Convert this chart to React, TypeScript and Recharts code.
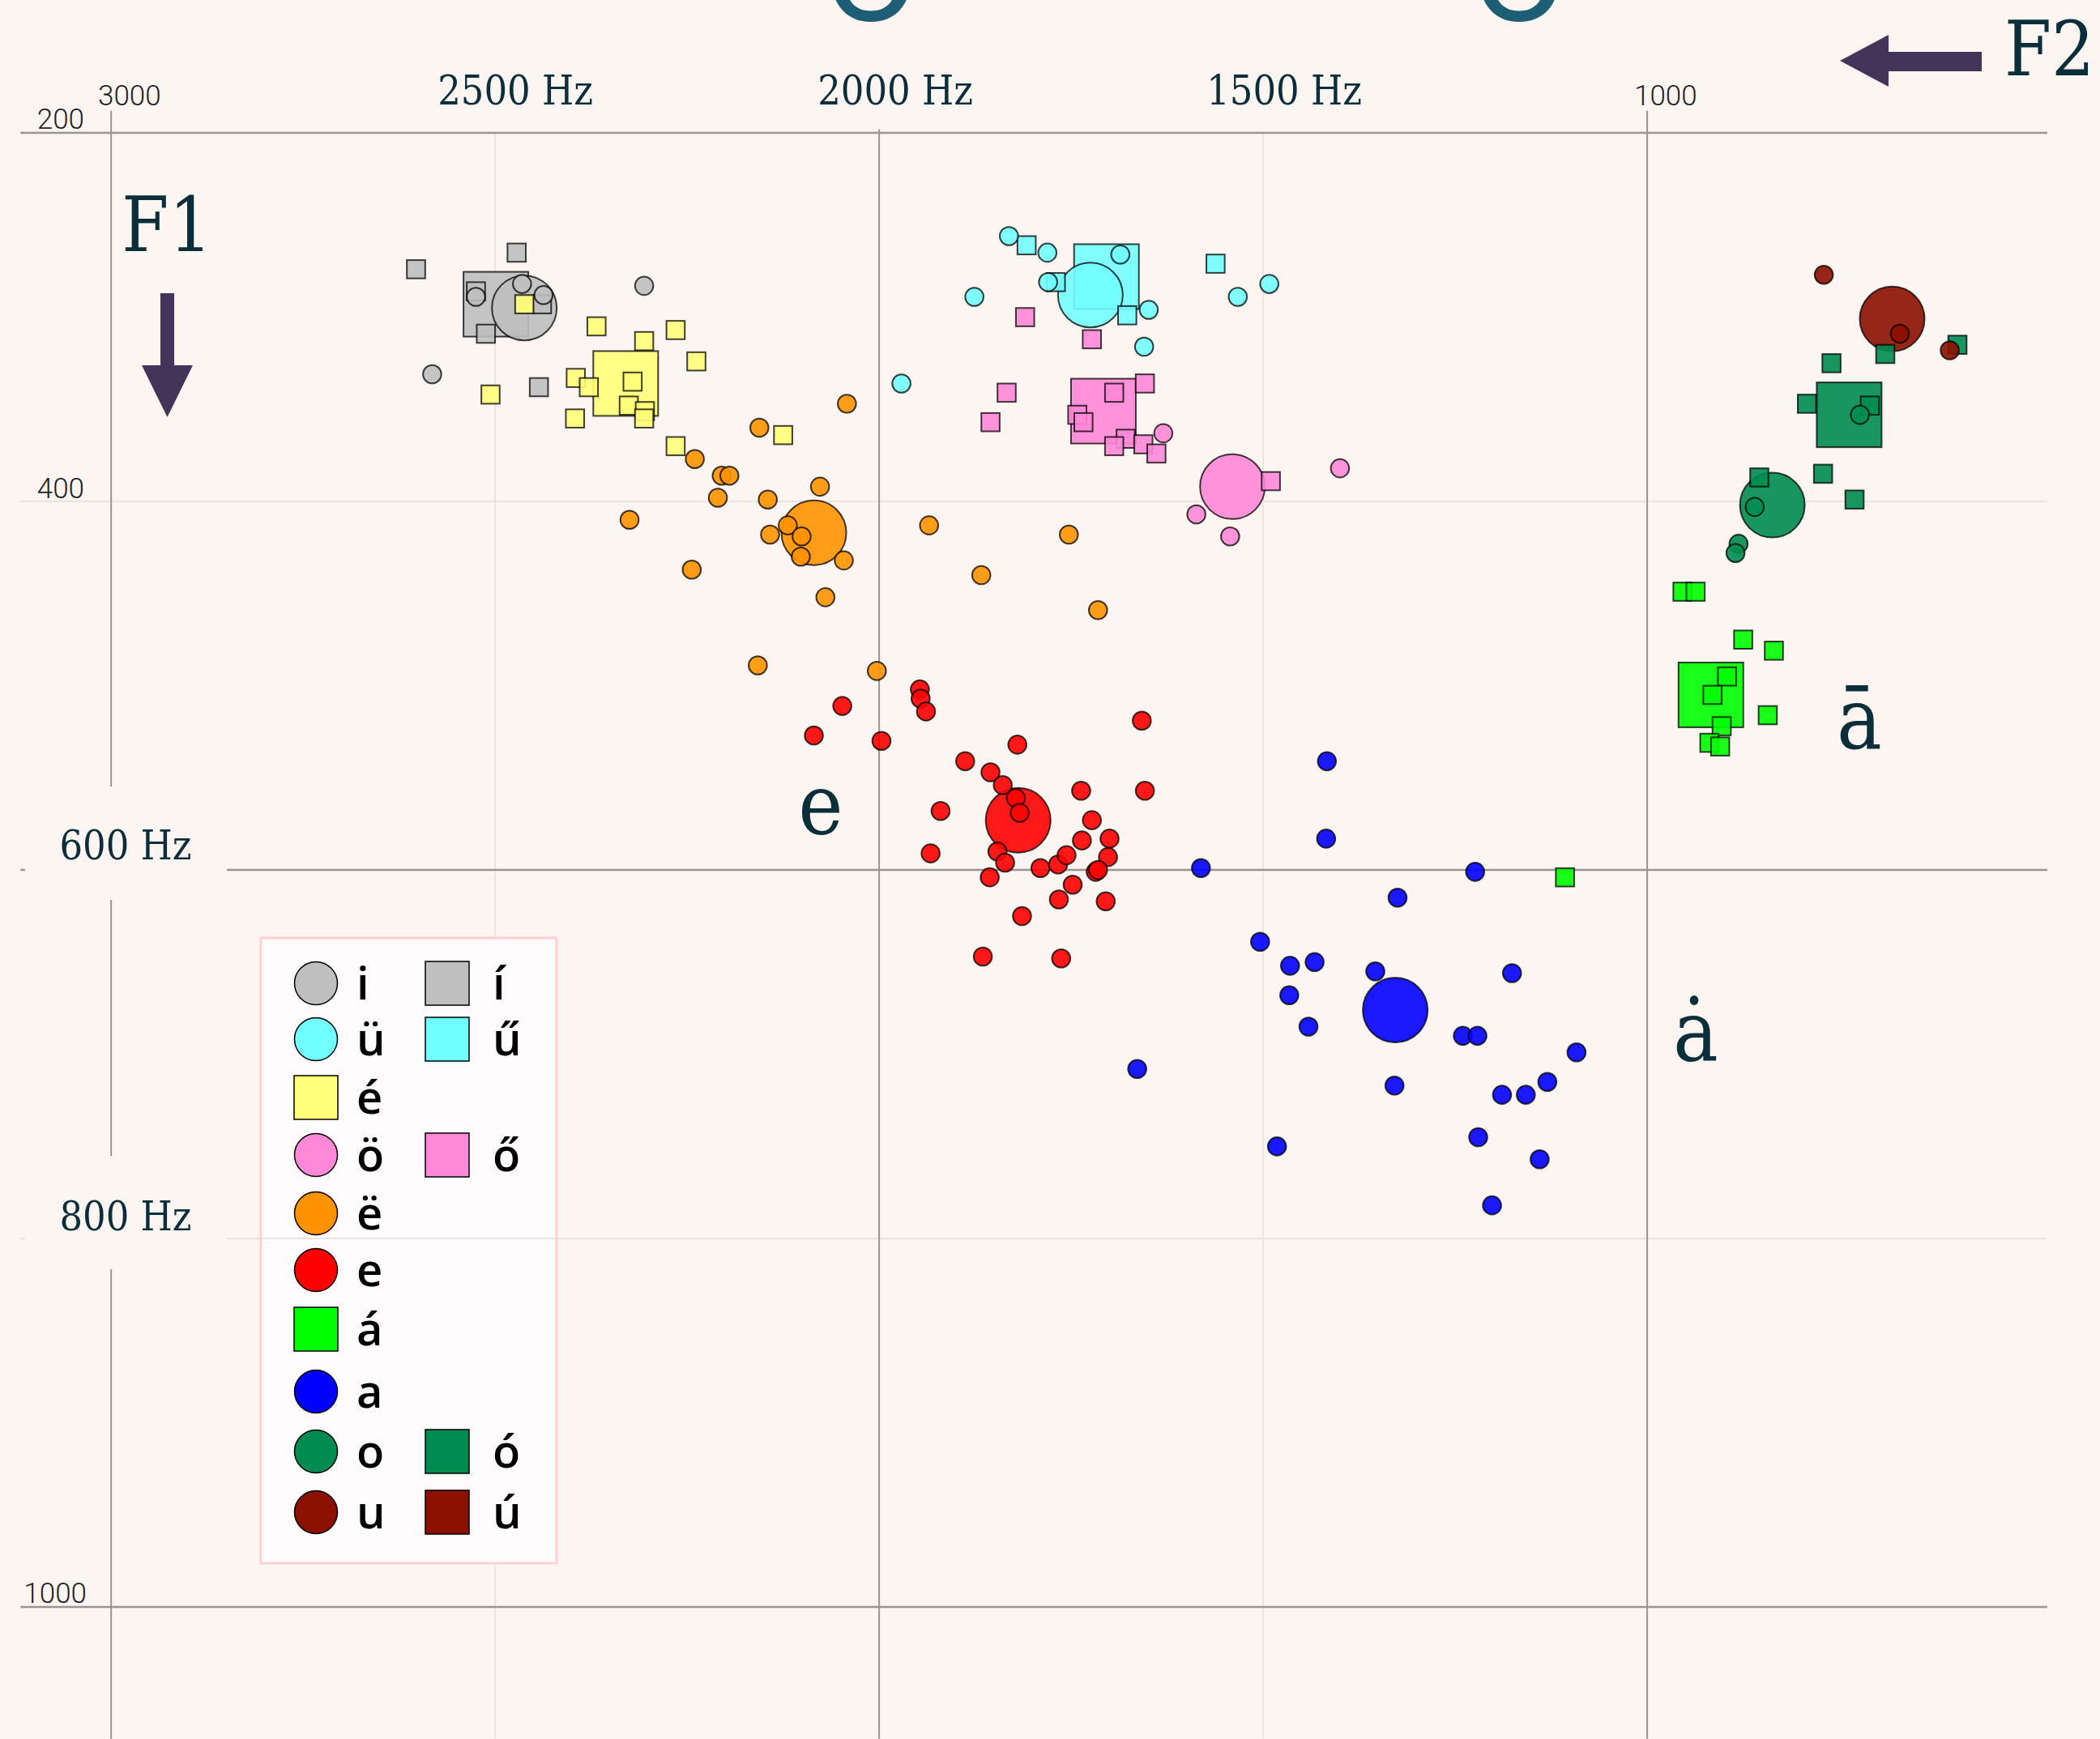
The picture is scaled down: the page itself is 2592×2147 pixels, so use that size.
import React from 'react';
import { ScatterChart, Scatter, XAxis, YAxis, ReferenceLine } from 'recharts';

const W = 2592;
const H = 2147;
const BG = '#fdf5f2';
const INK = '#0a2e3a';
const ARROW = '#45345a';

// axis domains (Hz) – F2 reversed on x, F1 reversed on y
const F2_DOMAIN: [number, number] = [410.4, 3144.7];
const F1_DOMAIN: [number, number] = [127.9, 1071.6];

// grid lines (Hz)
const darkH = [200, 600, 1000];
const lightH = [400, 800];
const darkV = [3000, 2000, 1000];
const lightV = [2500, 1500];

// tick labels
const topHzLabels = ['2500 Hz', '2000 Hz', '1500 Hz'];
const sideHzLabels = ['600 Hz', '800 Hz'];
const smallTopLabels = ['3000', '1000'];
const smallSideLabels = ['200', '400', '1000'];

// data: [F2, F1] in Hz
const iMean = [[2462, 295]];
const iPts = [[2465, 282], [2437, 288], [2525, 289], [2306, 283], [2582, 331]];
const iLongMean = [[2499, 293]];
const iLongPts = [[2603, 274], [2472, 265], [2525, 286], [2512, 309], [2439, 293], [2443, 338]];
const uumMean = [[1725, 288]];
const uumPts = [[1831, 256], [1781, 265], [1686, 266], [1780, 281], [1876, 289], [1649, 296], [1655, 316], [1533, 289], [1492, 282], [1971, 336]];
const uumLongMean = [[1704, 278]];
const uumLongPts = [[1808, 261], [1770, 281], [1677, 299], [1562, 271]];
const eLongMean = [[2330, 336]];
const eLongPts = [[2462, 293], [2368, 305], [2306, 313], [2265, 307], [2238, 324], [2395, 333], [2378, 338], [2321, 335], [2506, 342], [2326, 348], [2305, 351], [2306, 355], [2396, 355], [2265, 370], [2125, 364]];
const oumMean = [[1540, 392]];
const oumPts = [[1630, 363], [1587, 407], [1543, 419], [1400, 382]];
const oumLongMean = [[1708, 351]];
const oumLongPts = [[1810, 300], [1723, 312], [1834, 341], [1855, 357], [1694, 341], [1654, 336], [1742, 353], [1734, 357], [1679, 366], [1694, 370], [1656, 369], [1639, 374], [1490, 389]];
const eumMean = [[2085, 417]];
const eumPts = [[2042, 347], [2156, 360], [2240, 377], [2205, 386], [2195, 386], [2210, 398], [2145, 399], [2077, 392], [2325, 410], [2119, 413], [2101, 419], [2142, 418], [2102, 430], [2046, 432], [2244, 437], [2070, 452], [2158, 489], [2003, 492], [1935, 413], [1753, 418], [1867, 440], [1715, 459]];
const eMean = [[1819, 573]];
const ePts = [[2048, 511], [2085, 527], [1997, 530], [1947, 502], [1946, 507], [1939, 514], [1820, 532], [1888, 541], [1855, 547], [1839, 554], [1822, 561], [1817, 569], [1920, 568], [1933, 591], [1846, 590], [1836, 596], [1856, 604], [1790, 599], [1767, 597], [1756, 592], [1736, 584], [1737, 557], [1723, 573], [1700, 583], [1702, 593], [1718, 601], [1715, 600], [1748, 608], [1766, 616], [1705, 617], [1814, 625], [1865, 647], [1763, 648], [1658, 519], [1654, 557]];
const aLongMean = [[917, 505]];
const aLongPts = [[954, 449], [937, 449], [875, 475], [835, 481], [896, 495], [915, 505], [843, 516], [903, 522], [919, 531], [905, 533], [1107, 604]];
const aMean = [[1328, 676]];
const aPts = [[1417, 541], [1418, 583], [1581, 599], [1224, 601], [1325, 615], [1504, 639], [1465, 652], [1433, 650], [1466, 668], [1354, 655], [1176, 656], [1441, 685], [1240, 690], [1221, 690], [1092, 699], [1664, 708], [1329, 717], [1130, 715], [1189, 722], [1158, 722], [1482, 750], [1220, 745], [1140, 757], [1202, 782]];
const oMean = [[837, 402]];
const oPts = [[723, 353], [860, 403], [881, 423], [885, 428]];
const oLongMean = [[737, 353]];
const oLongPts = [[596, 315], [690, 320], [760, 325], [792, 347], [710, 348], [771, 385], [730, 399], [854, 387]];
const uMean = [[681, 301]];
const uPts = [[770, 277], [671, 309], [606, 318]];
const uLongMean: number[][] = [];
const uLongPts: number[][] = [];

type Kind = 'circle' | 'square';
interface Vowel { label: string; color: string; kind: Kind; mean: number[][]; pts: number[][]; }

const vowels: Vowel[] = [
  { label: 'í', color: '#bfbfbf', kind: 'square', mean: iLongMean, pts: iLongPts },
  { label: 'i', color: '#bfbfbf', kind: 'circle', mean: iMean, pts: iPts },
  { label: 'ű', color: '#72ffff', kind: 'square', mean: uumLongMean, pts: uumLongPts },
  { label: 'ü', color: '#72ffff', kind: 'circle', mean: uumMean, pts: uumPts },
  { label: 'é', color: '#ffff78', kind: 'square', mean: eLongMean, pts: eLongPts },
  { label: 'ő', color: '#ff88d8', kind: 'square', mean: oumLongMean, pts: oumLongPts },
  { label: 'ö', color: '#ff88d8', kind: 'circle', mean: oumMean, pts: oumPts },
  { label: 'ë', color: '#ff9200', kind: 'circle', mean: eumMean, pts: eumPts },
  { label: 'e', color: '#ff0000', kind: 'circle', mean: eMean, pts: ePts },
  { label: 'á', color: '#00ff00', kind: 'square', mean: aLongMean, pts: aLongPts },
  { label: 'a', color: '#0000ff', kind: 'circle', mean: aMean, pts: aPts },
  { label: 'ó', color: '#008c50', kind: 'square', mean: oLongMean, pts: oLongPts },
  { label: 'o', color: '#008c50', kind: 'circle', mean: oMean, pts: oPts },
  { label: 'ú', color: '#8b1000', kind: 'square', mean: uLongMean, pts: uLongPts },
  { label: 'u', color: '#8b1000', kind: 'circle', mean: uMean, pts: uPts },
];

// legend rows: [col1 label, col2 label]
const legendRows: [string, string | null][] = [
  ['i', 'í'], ['ü', 'ű'], ['é', null], ['ö', 'ő'], ['ë', null],
  ['e', null], ['á', null], ['a', null], ['o', 'ó'], ['u', 'ú'],
];

const toData = (arr: number[][]) => arr.map(([f2, f1]) => ({ f2, f1 }));

const makeShape = (kind: Kind, half: number) => (p: any) => {
  const { cx, cy, fill } = p;
  if (cx == null || cy == null) return <g />;
  const common = { fill, fillOpacity: 0.9, stroke: '#000', strokeOpacity: 0.75, strokeWidth: 2 };
  if (kind === 'circle') return <circle cx={cx} cy={cy} r={half} {...common} />;
  return <rect x={cx - half} y={cy - half} width={half * 2} height={half * 2} {...common} />;
};

const serif = "'DejaVu Serif Condensed', 'DejaVu Serif', serif";
const serifStyle = { fontStretch: 'condensed' as const };

const findVowel = (l: string) => vowels.find((v) => v.label === l)!;

const LegendMarker = ({ x, y, v }: { x: number; y: number; v: Vowel }) =>
  v.kind === 'circle' ? (
    <circle cx={x} cy={y} r={26.5} fill={v.color} stroke="#000" strokeWidth={1.5} />
  ) : (
    <rect x={x - 27} y={y - 27} width={54} height={54} fill={v.color} stroke="#000" strokeWidth={1.5} />
  );

const Overlay = () => {
  const rowY = [1214, 1283, 1355, 1426, 1498, 1568, 1641, 1718, 1792, 1867];
  return (
    <svg width={W} height={H} style={{ position: 'absolute', left: 0, top: 0, pointerEvents: 'none' }}>
      {/* partially visible large glyphs at the top */}
      <text x={1075} y={25} fontSize={200} textAnchor="middle" fill="#1d5e74" fontFamily="'Open Sans', sans-serif">o</text>
      <text x={1875} y={25} fontSize={200} textAnchor="middle" fill="#1d5e74" fontFamily="'Open Sans', sans-serif">o</text>

      {/* small tick labels */}
      <g fontFamily="Roboto, 'DejaVu Sans', sans-serif" fontWeight={300} fontSize={35} fill="#222">
        <text x={121} y={130}>{smallTopLabels[0]}</text>
        <text x={2017} y={130}>{smallTopLabels[1]}</text>
        <text x={104} y={159} textAnchor="end">{smallSideLabels[0]}</text>
        <text x={104} y={615} textAnchor="end">{smallSideLabels[1]}</text>
        <text x={107} y={1979} textAnchor="end">{smallSideLabels[2]}</text>
      </g>

      {/* Hz labels */}
      <g fontFamily={serif} style={serifStyle} fontSize={50} fill={INK} textAnchor="middle">
        <text x={636} y={129}>{topHzLabels[0]}</text>
        <text x={1105} y={129}>{topHzLabels[1]}</text>
        <text x={1585} y={129}>{topHzLabels[2]}</text>
      </g>
      <rect x={31} y={971} width={249} height={140} fill={BG} />
      <rect x={31} y={1427} width={249} height={140} fill={BG} />
      <g fontFamily={serif} style={serifStyle} fontSize={50} fill={INK} textAnchor="middle">
        <text x={155} y={1061}>{sideHzLabels[0]}</text>
        <text x={155} y={1519}>{sideHzLabels[1]}</text>
      </g>

      {/* axis titles and arrows */}
      <g fontFamily={serif} style={serifStyle} fontSize={93} fill={INK}>
        <text x={206} y={310} textAnchor="middle">F1</text>
        <text x={2474} y={93}>F2</text>
      </g>
      <polygon points="198,362 215,362 215,451 238,451 206.5,515 175,451 198,451" fill={ARROW} />
      <polygon points="2446,64 2446,88 2331,88 2331,107 2271,75 2331,43 2331,64" fill={ARROW} />

      {/* vowel class labels */}
      <g fontFamily={serif} style={serifStyle} fontSize={104} fill={INK} textAnchor="middle">
        <text x={1013} y={1030}>e</text>
        <text x={2295} y={925}>ā</text>
        <text x={2093} y={1310}>ȧ</text>
      </g>

      {/* legend */}
      <rect x={322} y={1158} width={365} height={772} fill="#fdfbfb" stroke="#fdd2cd" strokeWidth={3} />
      <line x1={323} x2={686} y1={1529} y2={1529} stroke="#ebe4e4" strokeWidth={2} />
      <g fontFamily="'Open Sans', sans-serif" fontWeight={600} fontSize={56} fill="#000">
        {legendRows.map(([a, b], i) => (
          <g key={i}>
            <LegendMarker x={390} y={rowY[i]} v={findVowel(a)} />
            <text x={440} y={rowY[i] + 20}>{a}</text>
            {b && <LegendMarker x={552} y={rowY[i]} v={findVowel(b)} />}
            {b && <text x={608} y={rowY[i] + 20}>{b}</text>}
          </g>
        ))}
      </g>
    </svg>
  );
};

export default function App() {
  const hStart = 3118;
  const hEnd = 479;
  return (
    <div style={{ position: 'absolute', left: 0, top: 0, width: W, height: H, background: BG, overflow: 'hidden' }}>
      <ScatterChart width={W} height={H} margin={{ top: 0, right: 0, bottom: 0, left: 0 }}>
        <XAxis type="number" dataKey="f2" domain={F2_DOMAIN} reversed hide allowDataOverflow />
        <YAxis type="number" dataKey="f1" domain={F1_DOMAIN} reversed hide allowDataOverflow />
        {lightV.map((v) => (
          <ReferenceLine key={'lv' + v} segment={[{ x: v, y: 200 }, { x: v, y: 1071.5 }]} stroke="#e9e3e3" strokeWidth={2} />
        ))}
        {lightH.map((v) => (
          <ReferenceLine key={'lh' + v} segment={[{ x: hStart, y: v }, { x: hEnd, y: v }]} stroke="#e9e3e3" strokeWidth={2} />
        ))}
        {darkV.map((v) => (
          <ReferenceLine key={'dv' + v} segment={[{ x: v, y: v === 2000 ? 198 : 188 }, { x: v, y: 1071.5 }]} stroke="#9a9595" strokeWidth={2} />
        ))}
        {darkH.map((v) => (
          <ReferenceLine key={'dh' + v} segment={[{ x: hStart, y: v }, { x: hEnd, y: v }]} stroke="#9a9595" strokeWidth={2.5} />
        ))}
        {vowels.map((v) => (
          <Scatter key={'m' + v.label} name={v.label + ' mean'} data={toData(v.mean)} dataKey="f1" fill={v.color}
            shape={makeShape(v.kind, 40)} isAnimationActive={false} />
        ))}
        {vowels.map((v) => (
          <Scatter key={'p' + v.label} name={v.label} data={toData(v.pts)} dataKey="f1" fill={v.color}
            shape={makeShape(v.kind, 11.3)} isAnimationActive={false} />
        ))}
      </ScatterChart>
      <Overlay />
    </div>
  );
}
